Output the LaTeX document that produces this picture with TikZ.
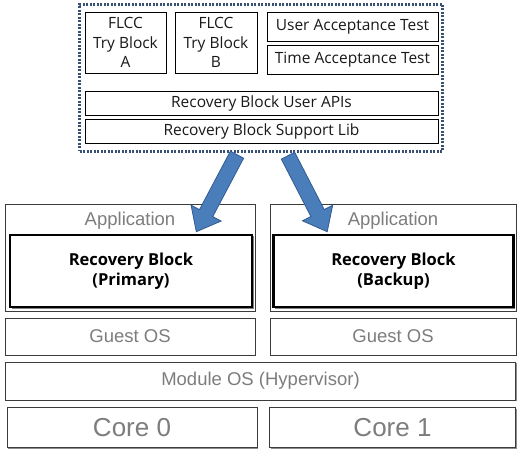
\documentclass[tikz,border=0pt]{standalone}
\usepackage{fontspec}
\setmainfont{Open Sans}
\newfontfamily\arialfont{Liberation Sans}
\usetikzlibrary{calc,shadows}
\definecolor{dotblue}{RGB}{55,80,115}
\definecolor{arrfill}{RGB}{74,126,187}
\definecolor{arredge}{RGB}{50,90,145}
\definecolor{graytext}{RGB}{125,125,125}
\definecolor{boxline}{RGB}{60,60,60}
\tikzset{
  topbox/.style={draw=black, line width=0.9pt, fill=white, inner sep=0pt, align=center,
    font=\fontsize{15.5}{19.5}\selectfont, text=black!90,
    drop shadow={shadow xshift=1pt, shadow yshift=-1pt, fill=black!35, opacity=1}},
  graybox/.style={draw=boxline, line width=0.9pt, fill=white, inner sep=0pt, align=center,
    font=\arialfont\fontsize{18.5}{22}\selectfont, text=graytext,
    drop shadow={shadow xshift=1.2pt, shadow yshift=-1.2pt, fill=black!45, opacity=1}},
  rbbox/.style={draw=black, line width=2.6pt, fill=white, inner sep=0pt, align=center,
    font=\bfseries\fontsize{16.5}{20}\selectfont, text=black,
    drop shadow={shadow xshift=1.5pt, shadow yshift=-1.5pt, fill=black!50, opacity=1}},
  blockarrow/.style={fill=arrfill, draw=arredge, line width=0.8pt, line join=miter},
}
\begin{document}
\begin{tikzpicture}[x=1pt,y=-1pt]
\useasboundingbox (0,0) rectangle (517,449);
% top dotted container
\node[draw=dotblue, line width=2.4pt, dash pattern=on 2pt off 1.5pt, minimum width=363pt, minimum height=147pt, inner sep=0pt] (container) at (261,78) {};
\node[topbox, minimum width=81pt, minimum height=61pt] (flcca) at (125.5,42.5) {FLCC\\Try Block\\A};
\node[topbox, minimum width=82pt, minimum height=61pt] (flccb) at (216,42.5) {FLCC\\Try Block\\B};
\node[topbox, minimum width=171pt, minimum height=29pt] (uat) at (352.5,26.5) {User Acceptance Test};
\node[topbox, minimum width=171pt, minimum height=29pt] (tat) at (352.5,59.5) {Time Acceptance Test};
\node[topbox, minimum width=353pt, minimum height=24pt] (apis) at (261.5,103) {Recovery Block User APIs};
\node[topbox, minimum width=353pt, minimum height=24pt] (lib) at (261.5,131) {Recovery Block Support Lib};
% application boxes
\node[graybox, minimum width=250pt, minimum height=107pt] (appl) at (130,257.5) {};
\node[font=\arialfont\fontsize{18.5}{22}\selectfont, text=graytext, inner sep=0pt] (appltxt) at (130,221) {Application};
\node[rbbox, minimum width=242pt, minimum height=72pt] (rbl) at (131,271) {Recovery Block\\(Primary)};
\node[graybox, minimum width=246pt, minimum height=107pt] (appr) at (393,257.5) {};
\node[font=\arialfont\fontsize{18.5}{22}\selectfont, text=graytext, inner sep=0pt] (apprtxt) at (393,221) {Application};
\node[rbbox, minimum width=240pt, minimum height=72pt] (rbr) at (393.5,271) {Recovery Block\\(Backup)};
% lower layers
\node[graybox, minimum width=250pt, minimum height=37pt] (guestl) at (130,336.5) {Guest OS};
\node[graybox, minimum width=246pt, minimum height=37pt] (guestr) at (393,336.5) {Guest OS};
\node[graybox, minimum width=510pt, minimum height=38pt] (module) at (260.5,381) {Module OS (Hypervisor)};
\node[graybox, minimum width=250pt, minimum height=40pt, font=\arialfont\fontsize{26}{30}\selectfont] (core0) at (132,427.5) {Core 0};
\node[graybox, minimum width=246pt, minimum height=40pt, font=\arialfont\fontsize{26}{30}\selectfont] (core1) at (392.5,427.5) {Core 1};
% block arrows
\coordinate (s1) at ($(container.south)+(-24,2)$);
\coordinate (e1) at ($(rbl.north east)+(-57,-2)$);
\coordinate (s2) at ($(container.south)+(27,3)$);
\coordinate (e2) at ($(rbr.north west)+(55,-2)$);
\foreach \s/\e in {s1/e1, s2/e2}{
  \coordinate (hb) at ($(\e)!21pt!(\s)$);
  \draw[blockarrow] ($(\s)!7.5pt!90:(\e)$) -- ($(hb)!7.5pt!-90:(\s)$) -- ($(hb)!17pt!-90:(\s)$) -- (\e)
    -- ($(hb)!17pt!90:(\s)$) -- ($(hb)!7.5pt!90:(\s)$) -- ($(\s)!7.5pt!-90:(\e)$) -- cycle;
}
\end{tikzpicture}
\end{document}
